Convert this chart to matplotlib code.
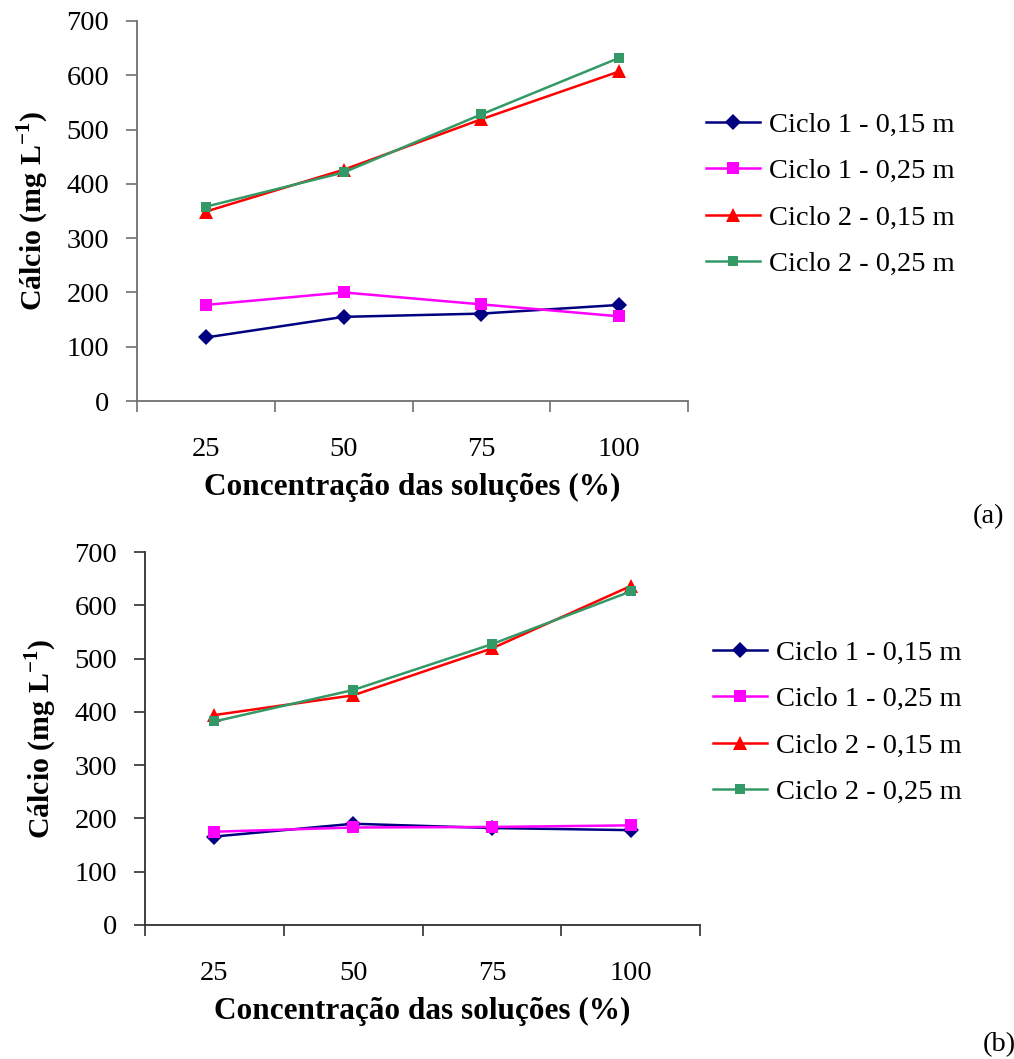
import matplotlib
matplotlib.use("Agg")
import matplotlib.pyplot as plt

plt.rcParams['font.family'] = ['Liberation Serif', 'DejaVu Serif']
plt.rcParams['mathtext.fontset'] = 'custom'
plt.rcParams['mathtext.rm'] = 'Liberation Serif'
plt.rcParams['mathtext.bf'] = 'Liberation Serif:bold'

categories = ['25', '50', '75', '100']
series_names = ['Ciclo 1 - 0,15 m', 'Ciclo 1 - 0,25 m', 'Ciclo 2 - 0,15 m', 'Ciclo 2 - 0,25 m']

# Panel (a)
a_c1_015 = [117, 155, 161, 177]
a_c1_025 = [177, 200, 178, 156]
a_c2_015 = [349, 426, 519, 607]
a_c2_025 = [358, 421, 528, 632]

# Panel (b)
b_c1_015 = [166, 190, 182, 178]
b_c1_025 = [175, 183, 184, 187]
b_c2_015 = [394, 431, 519, 636]
b_c2_025 = [382, 441, 527, 626]

y_ticks = [0, 100, 200, 300, 400, 500, 600, 700]

styles = [
    dict(color='#000080', marker='D', markersize=8),
    dict(color='#FF00FF', marker='s', markersize=9),
    dict(color='#FF0000', marker='^', markersize=10),
    dict(color='#339966', marker='s', markersize=7),
]

W, H = 1014, 1059
fig = plt.figure(figsize=(W / 100, H / 100), dpi=100)

FS = 20.5
LFS = 22.5
YFS = 21.5


def panel(rect, data, axcolor, leg_x, leg_yc):
    ax = fig.add_axes(rect)
    x = list(range(len(categories)))
    handles = []
    for vals, name, st in zip(data, series_names, styles):
        h, = ax.plot(x, vals, lw=1.8, label=name, markeredgewidth=0, **st)
        handles.append(h)
    ax.set_xlim(-0.5, len(categories) - 0.5)
    ax.set_ylim(0, 700)
    ax.set_yticks(y_ticks)
    ax.set_yticklabels([str(v) for v in y_ticks], fontsize=FS)
    ax.set_xticks([i - 0.5 for i in range(len(categories) + 1)])
    ax.set_xticklabels([])
    ax.set_xticks(x, minor=True)
    ax.set_xticklabels(categories, minor=True, fontsize=FS)
    ax.tick_params(axis='x', which='major', direction='out', length=8, width=1.2, color=axcolor)
    ax.tick_params(axis='x', which='minor', length=0, pad=26)
    ax.tick_params(axis='y', direction='out', length=8, width=1.2, color=axcolor, pad=12)
    for s in ['top', 'right']:
        ax.spines[s].set_visible(False)
    for s in ['left', 'bottom']:
        ax.spines[s].set_color(axcolor)
        ax.spines[s].set_linewidth(1.3)
    ax.set_xlabel('Concentração das soluções (%)', fontsize=LFS, fontweight='bold', labelpad=8)
    ax.set_ylabel(r'Cálcio (mg L$^{\mathbf{-1}}$)', fontsize=YFS, fontweight='bold', labelpad=11)
    ax.legend(handles=handles, loc='center left', bbox_to_anchor=(leg_x / W, 1 - leg_yc / H),
              bbox_transform=fig.transFigure, frameon=False, fontsize=FS,
              handlelength=1.9, handletextpad=0.33, labelspacing=0.71, borderpad=0,
              borderaxespad=0)
    return ax


panel([137 / W, 1 - 401 / H, (688 - 137) / W, 380 / H],
      [a_c1_015, a_c1_025, a_c2_015, a_c2_025], '#707070', 706, 194.5)
panel([145 / W, 1 - 925 / H, (700 - 145) / W, 373 / H],
      [b_c1_015, b_c1_025, b_c2_015, b_c2_025], '#303030', 713, 722.5)

fig.text(973 / W, 1 - 517 / H, '(a)', fontsize=FS, va='center', ha='left')
fig.text(983 / W, 1 - 1045 / H, '(b)', fontsize=FS, va='center', ha='left')

fig.savefig('out.png', dpi=100)
